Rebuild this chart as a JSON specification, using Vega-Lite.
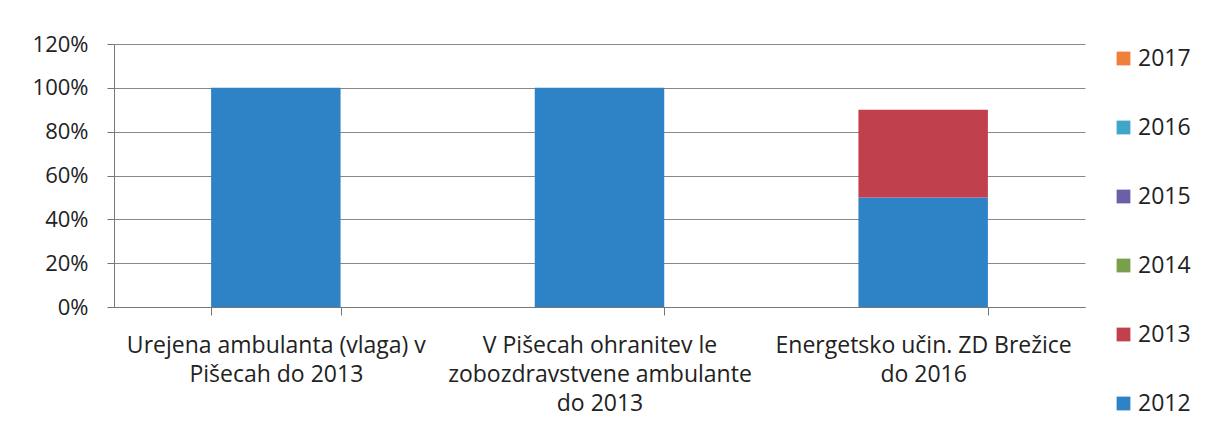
{
  "$schema": "https://vega.github.io/schema/vega-lite/v6.json",
  "autosize": {"type": "none"},
  "padding": {"left": 114, "top": 44, "right": 131, "bottom": 125},
  "width": 971,
  "height": 263,
  "background": "white",
  "data": {
    "values": [
      {"k": "Urejena ambulanta (vlaga) v|Pišecah do 2013", "year": "2012", "v": 1.0},
      {"k": "V Pišecah ohranitev le|zobozdravstvene ambulante|do 2013", "year": "2012", "v": 1.0},
      {"k": "Energetsko učin. ZD Brežice|do 2016", "year": "2012", "v": 0.5},
      {"k": "Energetsko učin. ZD Brežice|do 2016", "year": "2013", "v": 0.4}
    ]
  },
  "mark": {"type": "bar"},
  "encoding": {
    "x": {
      "field": "k",
      "type": "nominal",
      "sort": null,
      "scale": {"paddingInner": 0.6, "paddingOuter": 0.3},
      "axis": {
        "title": null,
        "labelAngle": 0,
        "labelExpr": "split(datum.label, '|')",
        "labelFont": "Open Sans",
        "labelFontSize": 23,
        "labelColor": "#222",
        "labelLineHeight": 29,
        "labelPadding": 19,
        "labelLimit": 400,
        "tickBand": "extent",
        "tickSize": 8,
        "tickColor": "#777",
        "domainColor": "#777",
        "grid": false
      }
    },
    "y": {
      "field": "v",
      "type": "quantitative",
      "aggregate": "sum",
      "stack": "zero",
      "scale": {"domain": [0, 1.2], "nice": false},
      "axis": {
        "title": null,
        "values": [0, 0.2, 0.4, 0.6, 0.8, 1.0, 1.2],
        "format": ".0%",
        "labelFont": "Open Sans",
        "labelFontSize": 22,
        "labelColor": "#222",
        "labelPadding": 19,
        "tickSize": 7,
        "tickColor": "#777",
        "domainColor": "#777",
        "gridColor": "#888",
        "gridWidth": 1
      }
    },
    "color": {
      "field": "year",
      "type": "nominal",
      "scale": {
        "domain": ["2017", "2016", "2015", "2014", "2013", "2012"],
        "range": ["#F07F3C", "#3FA6C8", "#6B5FAA", "#78A04A", "#C1404E", "#2E82C6"]
      },
      "legend": {
        "title": null,
        "orient": "none",
        "legendX": 998,
        "legendY": 3,
        "padding": 0,
        "symbolType": "square",
        "symbolSize": 190,
        "symbolStrokeWidth": 0,
        "labelFont": "Open Sans",
        "labelFontSize": 23,
        "labelColor": "#222",
        "labelOffset": 3,
        "rowPadding": 45
      }
    },
    "order": {"field": "year", "type": "nominal", "sort": "ascending"}
  },
  "config": {
    "view": {"stroke": null}
  }
}
